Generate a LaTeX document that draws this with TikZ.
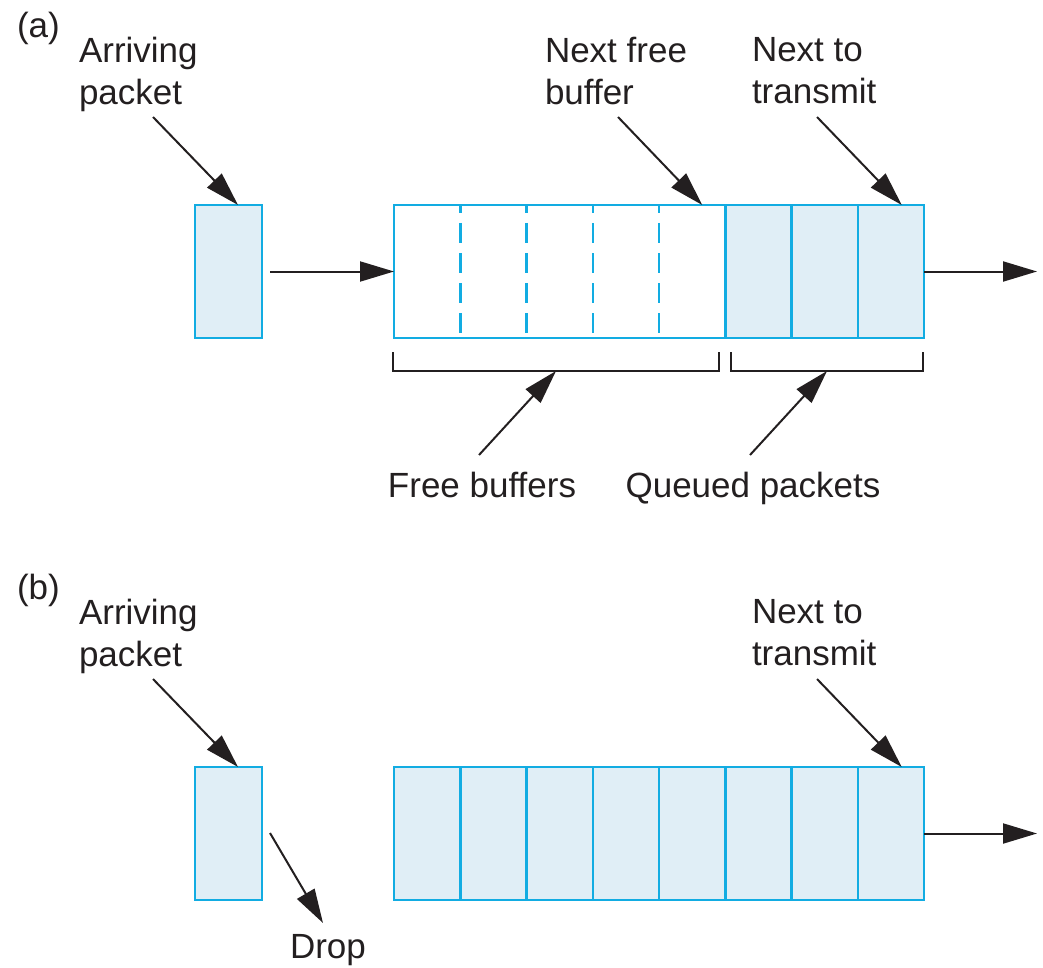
\documentclass[tikz,border=0pt]{standalone}
\usepackage{fontspec}
\setmainfont{Liberation Sans}
\usetikzlibrary{arrows.meta,calc}
\definecolor{cellline}{HTML}{12ACE2}
\definecolor{cellfill}{HTML}{E0EEF6}
\definecolor{ink}{HTML}{231F20}

\begin{document}
\begin{tikzpicture}[x=1pt,y=-1pt,
  every node/.style={inner sep=0pt, outer sep=0pt},
  lbl/.style={font=\fontsize{35}{42}\selectfont, text=ink, align=left},
  cell/.style={draw=cellline, line width=2.5pt, minimum width=66.25pt,
               minimum height=133pt, anchor=north west},
  pkt/.style={cell, fill=cellfill},
  sep/.style={draw=cellline, line width=2.5pt, dash pattern=on 20pt off 10pt, dash phase=12pt},
  ptr/.style={draw=ink, line width=2pt, -{Triangle[length=34pt,width=20pt]}},
  bracket/.style={draw=ink, line width=2pt},
]
\useasboundingbox (0,0) rectangle (1043,968);

% ---------------- (a) buffer with free space ----------------
\node[lbl, anchor=north west] (tagA) at (17,12) {(a)};
\node[lbl, anchor=north west] (arrA) at (79,37) {Arriving\\packet};
\node[lbl, anchor=north west] (nfbA) at (545,37) {Next free\\buffer};
\node[lbl, anchor=north west] (ntxA) at (752,37) {Next to\\transmit};

\node[pkt, minimum width=67pt] (inA) at (195,205) {};
\node[cell, minimum width=331.25pt] (freeA) at (394,205) {};
\foreach \i in {1,...,4}
  \draw[sep] ($(freeA.north west)+(66.25*\i,0)$) -- ($(freeA.south west)+(66.25*\i,0)$);
\node[pkt] (qA1) at (725.25,205) {};
\node[pkt] (qA2) at (791.5,205) {};
\node[pkt] (qA3) at (857.75,205) {};

\coordinate (arrAtail) at (153,117);
\coordinate (nfbAtail) at (618,117);
\coordinate (ntxAtail) at (817,117);
\draw[ptr] (arrAtail) -- ($(inA.north west)+(43,0)$);
\draw[ptr] (nfbAtail) -- ($(freeA.north east)+(-23,0)$);
\draw[ptr] (ntxAtail) -- ($(qA3.north west)+(44,0)$);

\coordinate (inAout) at (270,271.5);
\coordinate (outA) at (1037,271.5);
\draw[ptr] (inAout) -- (freeA.west);
\draw[ptr] (qA3.east) -- (outA);

% brackets under the free and the queued buffers
\draw[bracket] (393,352) -- (393,371) -- (719,371) -- (719,352);
\draw[bracket] (731,352) -- (731,371) -- (923,371) -- (923,352);
\coordinate (freeMid) at (556,371);
\coordinate (queueMid) at (827,371);

\node[lbl, anchor=north] (fbl) at (482,472) {Free buffers};
\node[lbl, anchor=north] (qpl) at (753,472) {Queued packets};
\coordinate (fbltail) at (479,455);
\coordinate (qpltail) at (750,455);
\draw[ptr] (fbltail) -- (freeMid);
\draw[ptr] (qpltail) -- (queueMid);

% ---------------- (b) full buffer, packet dropped ----------------
\node[lbl, anchor=north west] (tagB) at (17,574) {(b)};
\node[lbl, anchor=north west] (arrB) at (79,599) {Arriving\\packet};
\node[lbl, anchor=north west] (ntxB) at (752,599) {Next to\\transmit};

\node[pkt, minimum width=67pt] (inB) at (195,767) {};
\foreach \i in {1,...,8}
  \node[pkt] (qB\i) at ({394+66.25*(\i-1)},767) {};

\coordinate (arrBtail) at (153,679);
\coordinate (ntxBtail) at (817,679);
\draw[ptr] (arrBtail) -- ($(inB.north west)+(43,0)$);
\draw[ptr] (ntxBtail) -- ($(qB8.north west)+(44,0)$);

\coordinate (outB) at (1037,833.5);
\draw[ptr] (qB8.east) -- (outB);

\node[lbl, anchor=north west] (dropB) at (290,934) {Drop};
\coordinate (dropTail) at (270,833);
\coordinate (dropTip) at (323,923);
\draw[ptr] (dropTail) -- (dropTip);
\end{tikzpicture}
\end{document}
